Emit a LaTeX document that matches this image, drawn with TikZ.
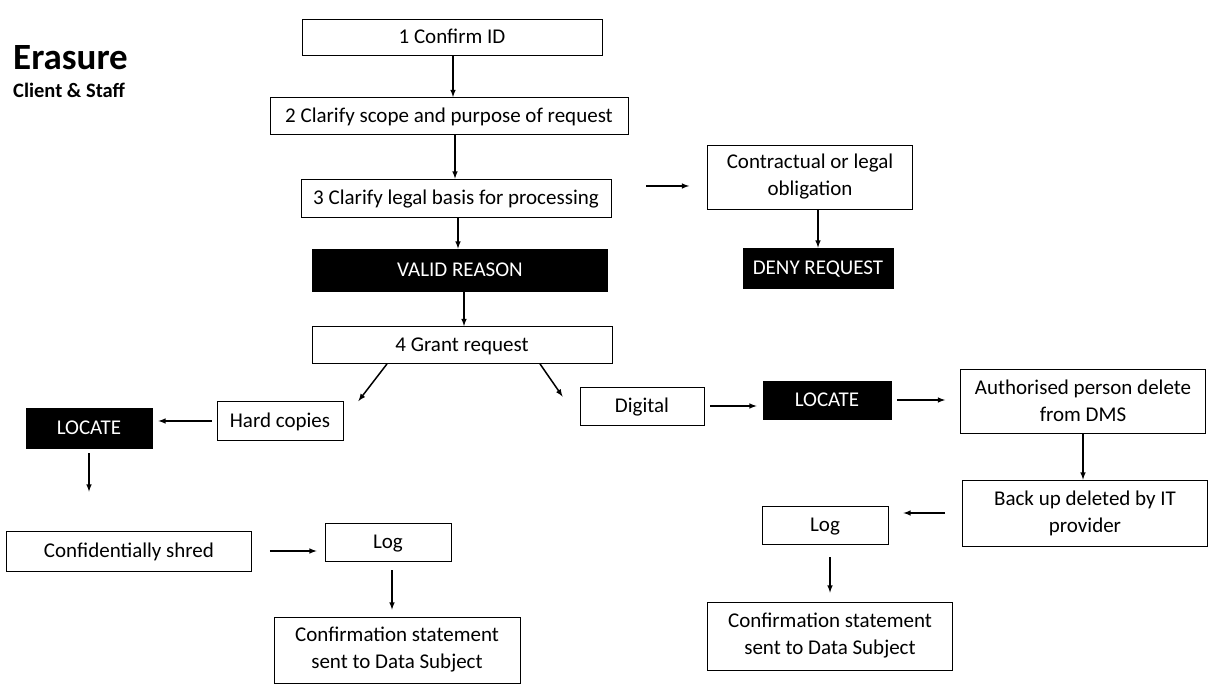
\documentclass[tikz,border=0pt]{standalone}
\usepackage{fontspec}
\setmainfont{Carlito}
\usepackage{tikz}
\usetikzlibrary{arrows}
\tikzset{
	flowbox/.style={draw, line width=0.8pt, inner sep=0pt, align=center,
		font=\fontsize{21}{27}\selectfont},
	oneline/.style={flowbox, text height=13.5pt, text depth=0.5pt},
	blackbox/.style={oneline, fill=black, text=white},
	flowarrow/.style={-latex, line width=1.5pt},
}

\begin{document}
\begin{tikzpicture}[x=1pt, y=-1pt]
	\useasboundingbox (0,0) rectangle (1208,684);
	
	% heading
	\node[anchor=base west, inner sep=0pt, font=\fontsize{37}{42}\selectfont\bfseries] (title) at (13,70) {Erasure};
	\node[anchor=base west, inner sep=0pt, font=\fontsize{20.5}{24}\selectfont\bfseries] (subtitle) at (13,98) {Client \& Staff};
	
	% main steps
	\node[oneline, minimum width=300pt, minimum height=36pt] (confirm) at (452,37) {1 Confirm ID};
	\node[oneline, minimum width=358pt, minimum height=37pt] (scope) at (449,116) {2 Clarify scope and purpose of request};
	\node[oneline, minimum width=310pt, minimum height=38pt] (basis) at (456,198) {3 Clarify legal basis for processing};
	\node[blackbox, minimum width=295pt, minimum height=42pt] (valid) at (460,270) {VALID REASON};
	\node[oneline, minimum width=300pt, minimum height=37pt] (grant) at (462,345) {4 Grant request};
	
	% refusal branch
	\node[flowbox, minimum width=205pt, minimum height=64pt] (oblig) at (810,177) {Contractual or legal\\obligation};
	\node[blackbox, minimum width=150pt, minimum height=40pt] (deny) at (818,268) {DENY REQUEST};
	
	% hard copies branch
	\node[oneline, minimum width=126pt, minimum height=39pt] (hard) at (280,421) {Hard copies};
	\node[blackbox, minimum width=126pt, minimum height=40pt] (locL) at (89,428) {LOCATE};
	\node[oneline, minimum width=245pt, minimum height=40pt] (shred) at (129,551) {Confidentially shred};
	\node[oneline, minimum width=126pt, minimum height=38pt] (logL) at (388,542) {Log};
	\node[flowbox, minimum width=246pt, minimum height=66pt] (confL) at (397,650) {Confirmation statement\\sent to Data Subject};
	
	% digital branch
	\node[oneline, minimum width=124pt, minimum height=38pt] (digital) at (642,406) {Digital};
	\node[blackbox, minimum width=128pt, minimum height=38pt] (locR) at (827,400) {LOCATE};
	\node[flowbox, minimum width=245pt, minimum height=64pt] (auth) at (1083,401) {Authorised person delete\\from DMS};
	\node[flowbox, minimum width=245pt, minimum height=66pt] (backup) at (1085,513) {Back up deleted by IT\\provider};
	\node[oneline, minimum width=126pt, minimum height=38pt] (logR) at (825,525) {Log};
	\node[flowbox, minimum width=245pt, minimum height=68pt] (confR) at (830,636) {Confirmation statement\\sent to Data Subject};
	
	% arrows main column
	\draw[flowarrow] (confirm.south -| 453,0) -- (scope.north -| 453,0);
	\draw[flowarrow] (scope.south -| 455,0) -- (basis.north -| 455,0);
	\draw[flowarrow] (basis.south -| 458,0) -- (valid.north -| 458,0);
	\draw[flowarrow] (valid.south -| 464,0) -- (grant.north -| 464,0);
	
	% arrows refusal
	\draw[flowarrow] ([shift={(35pt,12pt)}]basis.east) -- ([shift={(-18pt,-9pt)}]oblig.west);
	\draw[flowarrow] (oblig.south -| deny.north) -- (deny.north);
	
	% arrows out of grant
	\draw[flowarrow] ([xshift=-75pt]grant.south) -- ([xshift=15pt]hard.north east);
	\draw[flowarrow] ([xshift=78pt]grant.south) -- ([shift={(-17pt,-10pt)}]digital.north west);
	
	% arrows hard copies
	\draw[flowarrow, shorten <=5pt, shorten >=6pt] (hard.west) -- (hard.west -| locL.east);
	\draw[flowarrow, shorten <=5pt, shorten >=39pt] (locL.south) -- (locL.south |- shred.north);
	\draw[flowarrow, shorten <=18pt, shorten >=8pt] (shred.east) -- (shred.east -| logL.west);
	\draw[flowarrow, shorten <=9pt, shorten >=7pt] ([xshift=4pt]logL.south) -- ([xshift=4pt]logL.south |- confL.north);
	
	% arrows digital
	\draw[flowarrow, shorten <=6pt, shorten >=6pt] (digital.east) -- (digital.east -| locR.west);
	\draw[flowarrow, shorten <=6pt, shorten >=15pt] (locR.east) -- (locR.east -| auth.west);
	\draw[flowarrow] (auth.south) -- (auth.south |- backup.north);
	\draw[flowarrow, shorten <=17pt, shorten >=15pt] (backup.west) -- (backup.west -| logR.east);
	\draw[flowarrow, shorten <=13pt, shorten >=9pt] ([xshift=5pt]logR.south) -- ([xshift=5pt]logR.south |- confR.north);
\end{tikzpicture}
\end{document}
